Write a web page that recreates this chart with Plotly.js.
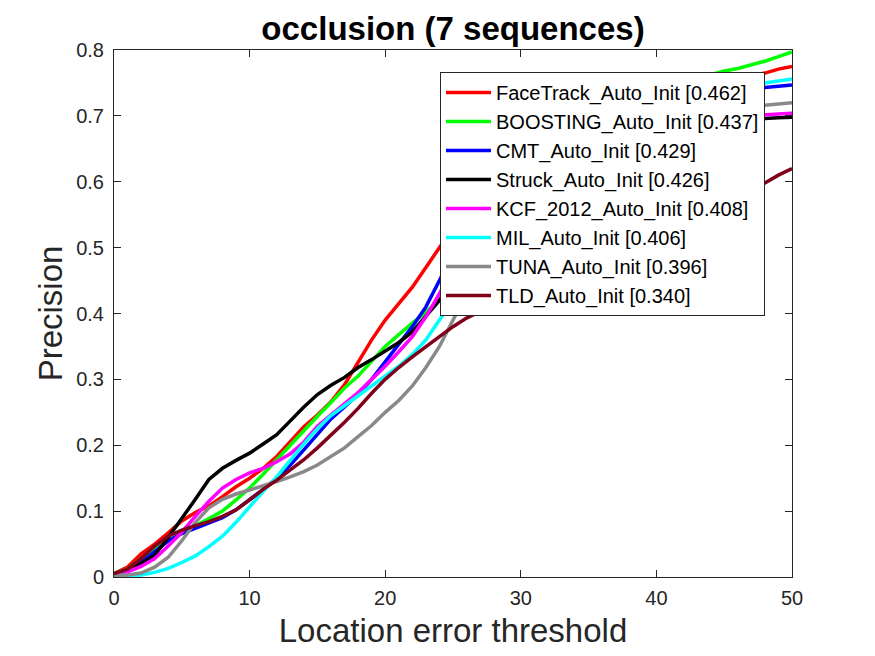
<!DOCTYPE html>
<html>
<head>
<meta charset="utf-8">
<script src="https://cdn.plot.ly/plotly-3.0.1.min.js"></script>
<style>
  html, body { margin: 0; padding: 0; background: #fff; }
  #chart { width: 875px; height: 656px; }
</style>
</head>
<body>
<div id="chart"></div>
<script>
// location error thresholds (px)
const thresholds = [];
for (let t = 0; t <= 50; t++) thresholds.push(t);

const trackerNames = [
  'FaceTrack_Auto_Init [0.462]',
  'BOOSTING_Auto_Init [0.437]',
  'CMT_Auto_Init [0.429]',
  'Struck_Auto_Init [0.426]',
  'KCF_2012_Auto_Init [0.408]',
  'MIL_Auto_Init [0.406]',
  'TUNA_Auto_Init [0.396]',
  'TLD_Auto_Init [0.340]',
];

// precision values, one per threshold
const faceTrack = [0.005, 0.015, 0.035, 0.05, 0.067, 0.085, 0.098, 0.108, 0.122, 0.137,
  0.15, 0.165, 0.183, 0.205, 0.228, 0.246, 0.266, 0.292, 0.325, 0.36,
  0.39, 0.415, 0.44, 0.47, 0.5, 0.53, 0.56, 0.6, 0.63, 0.65,
  0.67, 0.685, 0.695, 0.705, 0.71, 0.715, 0.72, 0.725, 0.73, 0.735,
  0.74, 0.745, 0.748, 0.752, 0.755, 0.757, 0.759, 0.761, 0.765, 0.771, 0.775];
const boosting = [0.005, 0.012, 0.028, 0.042, 0.055, 0.066, 0.077, 0.088, 0.1, 0.117,
  0.135, 0.156, 0.178, 0.2, 0.223, 0.244, 0.265, 0.287, 0.305, 0.328,
  0.35, 0.368, 0.385, 0.402, 0.42, 0.45, 0.48, 0.52, 0.55, 0.58,
  0.61, 0.63, 0.65, 0.665, 0.68, 0.69, 0.7, 0.71, 0.72, 0.73,
  0.74, 0.745, 0.75, 0.757, 0.763, 0.768, 0.772, 0.777, 0.783, 0.79, 0.797];
const cmt = [0.003, 0.01, 0.022, 0.038, 0.055, 0.066, 0.074, 0.082, 0.09, 0.102,
  0.117, 0.133, 0.15, 0.17, 0.193, 0.217, 0.24, 0.258, 0.277, 0.3,
  0.327, 0.352, 0.38, 0.41, 0.45, 0.49, 0.53, 0.56, 0.59, 0.61,
  0.63, 0.645, 0.66, 0.67, 0.68, 0.69, 0.697, 0.703, 0.708, 0.713,
  0.718, 0.722, 0.726, 0.73, 0.733, 0.736, 0.739, 0.741, 0.743, 0.745, 0.747];
const struck = [0.003, 0.01, 0.02, 0.033, 0.06, 0.088, 0.118, 0.148, 0.165, 0.177,
  0.188, 0.202, 0.216, 0.237, 0.258, 0.277, 0.291, 0.303, 0.318, 0.33,
  0.343, 0.356, 0.372, 0.395, 0.42, 0.45, 0.48, 0.51, 0.54, 0.56,
  0.58, 0.6, 0.615, 0.625, 0.635, 0.645, 0.652, 0.659, 0.665, 0.67,
  0.675, 0.679, 0.683, 0.686, 0.689, 0.691, 0.693, 0.695, 0.696, 0.697, 0.698];
const kcf2012 = [0.003, 0.008, 0.016, 0.028, 0.047, 0.068, 0.092, 0.115, 0.135, 0.148,
  0.158, 0.165, 0.175, 0.187, 0.205, 0.229, 0.246, 0.263, 0.28, 0.3,
  0.32, 0.342, 0.365, 0.395, 0.43, 0.47, 0.51, 0.54, 0.565, 0.585,
  0.6, 0.615, 0.627, 0.637, 0.645, 0.653, 0.66, 0.666, 0.671, 0.676,
  0.68, 0.684, 0.687, 0.69, 0.693, 0.696, 0.698, 0.7, 0.702, 0.703, 0.704];
const mil = [0.002, 0.002, 0.003, 0.007, 0.013, 0.022, 0.032, 0.046, 0.062, 0.083,
  0.107, 0.13, 0.152, 0.178, 0.202, 0.225, 0.245, 0.26, 0.275, 0.29,
  0.305, 0.32, 0.338, 0.36, 0.39, 0.42, 0.46, 0.5, 0.53, 0.56,
  0.585, 0.605, 0.625, 0.64, 0.655, 0.668, 0.68, 0.69, 0.7, 0.708,
  0.715, 0.721, 0.727, 0.732, 0.736, 0.74, 0.744, 0.747, 0.75, 0.753, 0.756];
const tuna = [0.002, 0.003, 0.006, 0.015, 0.03, 0.055, 0.083, 0.105, 0.118, 0.126,
  0.132, 0.138, 0.145, 0.152, 0.16, 0.17, 0.183, 0.196, 0.213, 0.23,
  0.25, 0.268, 0.29, 0.318, 0.35, 0.39, 0.43, 0.47, 0.5, 0.53,
  0.555, 0.575, 0.595, 0.61, 0.625, 0.638, 0.65, 0.66, 0.669, 0.677,
  0.684, 0.69, 0.695, 0.7, 0.704, 0.708, 0.711, 0.714, 0.716, 0.718, 0.72];
const tld = [0.005, 0.012, 0.028, 0.047, 0.062, 0.071, 0.078, 0.084, 0.092, 0.102,
  0.117, 0.133, 0.147, 0.162, 0.178, 0.196, 0.215, 0.235, 0.256, 0.279,
  0.3, 0.318, 0.334, 0.35, 0.365, 0.38, 0.393, 0.403, 0.413, 0.421,
  0.428, 0.437, 0.446, 0.455, 0.464, 0.473, 0.482, 0.49, 0.498, 0.507,
  0.516, 0.525, 0.535, 0.545, 0.555, 0.565, 0.575, 0.586, 0.598, 0.61, 0.62];

const seriesValues = [faceTrack, boosting, cmt, struck, kcf2012, mil, tuna, tld];
const lineColors = ['#ff0000', '#00ff00', '#0000ff', '#000000',
  '#ff00ff', '#00ffff', '#898989', '#80001a'];

const fontFamily = '"Liberation Sans", Arial, sans-serif';
const axisColor = '#262626';

const traces = seriesValues.map((vals, i) => ({
  x: thresholds,
  y: vals,
  name: trackerNames[i],
  type: 'scatter',
  mode: 'lines',
  line: { color: lineColors[i], width: 3.5 },
}));

const axisCommon = {
  showgrid: false,
  zeroline: false,
  showline: true,
  mirror: 'ticks',
  linecolor: axisColor,
  linewidth: 1,
  ticks: 'inside',
  ticklen: 7,
  tickwidth: 1,
  tickcolor: axisColor,
  tickfont: { family: fontFamily, size: 20, color: axisColor },
};

const layout = {
  width: 875,
  height: 656,
  margin: { l: 114, r: 83, t: 50, b: 79 },
  paper_bgcolor: '#ffffff',
  plot_bgcolor: '#ffffff',
  showlegend: true,
  title: {
    text: '<b>occlusion (7 sequences)</b>',
    font: { family: fontFamily, size: 33, color: '#000000' },
    x: 0.5,
    xref: 'paper',
    y: 1 - 28 / 656,
    yanchor: 'middle',
  },
  xaxis: Object.assign({}, axisCommon, {
    range: [0, 50],
    tickvals: [0, 10, 20, 30, 40, 50],
    ticklabelstandoff: 3,
    title: {
      text: 'Location error threshold',
      font: { family: fontFamily, size: 33, color: axisColor },
      standoff: 10,
    },
  }),
  yaxis: Object.assign({}, axisCommon, {
    range: [0, 0.8],
    tickvals: [0, 0.1, 0.2, 0.3, 0.4, 0.5, 0.6, 0.7, 0.8],
    ticktext: ['0', '0.1', '0.2', '0.3', '0.4', '0.5', '0.6', '0.7', '0.8'],
    ticklabelstandoff: 5,
    title: {
      text: 'Precision',
      font: { family: fontFamily, size: 33, color: axisColor },
      standoff: 3,
    },
  }),
  legend: {
    x: (440 - 114) / 678,
    y: (577 - 72) / 527,
    xanchor: 'left',
    yanchor: 'top',
    bgcolor: '#ffffff',
    bordercolor: axisColor,
    borderwidth: 1,
    font: { family: fontFamily, size: 20, color: '#000000' },
    itemwidth: 45,
    tracegroupgap: 0,
  },
};

const config = { displayModeBar: false, responsive: false };

Plotly.newPlot('chart', traces, layout, config);
</script>
</body>
</html>
